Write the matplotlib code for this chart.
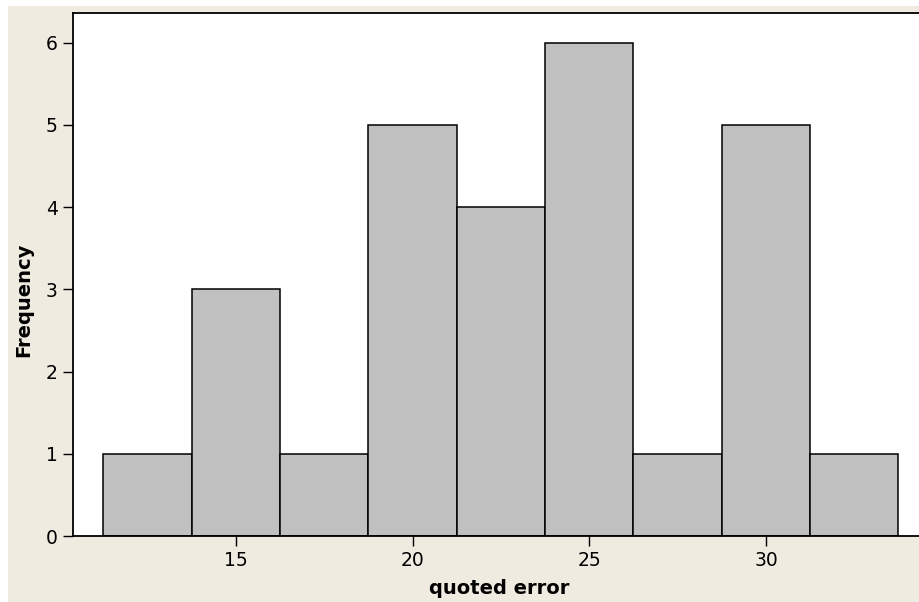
import matplotlib.pyplot as plt
from matplotlib.patches import Rectangle

# histogram bins (midpoints) and counts
mids = [12.5, 15, 17.5, 20, 22.5, 25, 27.5, 30, 32.5]
counts = [1, 3, 1, 5, 4, 6, 1, 5, 1]
bin_width = 2.5
xticks = [15, 20, 25, 30]
yticks = [0, 1, 2, 3, 4, 5, 6]

fig = plt.figure(figsize=(9.19, 6.02), dpi=100)
fig.patch.set_facecolor('#EFEBE1')
# thin white strips on the left and top edges of the screenshot
fig.patches.append(Rectangle((0, 0), 8 / 919, 1, transform=fig.transFigure,
                             facecolor='white', edgecolor='none', zorder=0))
fig.patches.append(Rectangle((0, 1 - 6 / 602), 1, 6 / 602, transform=fig.transFigure,
                             facecolor='white', edgecolor='none', zorder=0))

ax = fig.add_axes([73 / 919, 66 / 602, 852 / 919, 523 / 602])
ax.set_facecolor('white')

ax.bar(mids, counts, width=bin_width, color='#C0C0C0', edgecolor='black',
       linewidth=1.1, zorder=2)

ax.set_xlim(10.39, 34.5)
ax.set_ylim(0, 6.36)
ax.set_xticks(xticks)
ax.set_yticks(yticks)
ax.tick_params(axis='both', labelsize=13.5, length=7, width=1, direction='out',
               pad=4, colors='black')

for s in ['top', 'left', 'bottom', 'right']:
    ax.spines[s].set_linewidth(1.3)

ax.set_xlabel('quoted error', fontsize=14, fontweight='bold', labelpad=6)
ax.set_ylabel('Frequency', fontsize=14, fontweight='bold')
ax.yaxis.set_label_coords(-0.047, 0.451)

fig.savefig('out.png', dpi=100, facecolor=fig.get_facecolor())
